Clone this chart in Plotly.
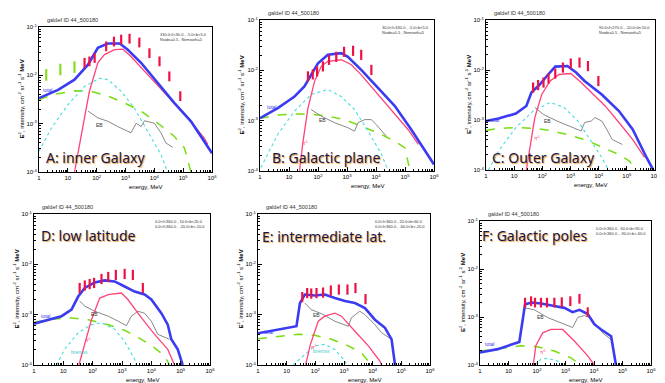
import plotly.graph_objects as go

# E (MeV) and E^2 intensity (MeV cm^-2 sr^-1 s^-1)
# A: inner Galaxy
a_total_e = [1, 4.6, 17, 50, 110, 245, 631, 1202, 3467, 1.32e4, 4.9e4, 1.86e5, 5.37e5, 1e6]
a_total = [3.39e-3, 5.01e-3, 8.13e-3, 1.66e-2, 3.72e-2, 4.57e-2, 4.57e-2, 3.39e-2, 1.82e-2, 6.92e-3, 2.69e-3, 1.12e-3, 4.27e-4, 2.45e-4]
a_pi0_e = [17, 29, 56, 110, 186, 417, 813, 1549, 5888, 2.88e4, 1.45e5, 5.37e5, 7.1e5]
a_pi0 = [1e-4, 5.89e-4, 4.68e-3, 1.82e-2, 2.69e-2, 3.39e-2, 3.47e-2, 2.45e-2, 1.02e-2, 3.72e-3, 1.32e-3, 5.01e-4, 3.72e-4]
a_brems_e = [1, 2.7, 10, 38, 126, 245, 708, 2042, 5888, 1.7e4, 2.88e4]
a_brems = [2.69e-4, 8.13e-4, 2.45e-3, 5.89e-3, 8.71e-3, 8.13e-3, 4.68e-3, 2.09e-3, 6.92e-4, 2.29e-4, 1e-4]
a_ic_e = [1, 3.5, 17, 65, 245, 912, 3467, 1.32e4, 4.9e4, 1.1e5, 1.86e5]
a_ic = [3.16e-3, 4.07e-3, 4.79e-3, 4.68e-3, 3.72e-3, 2.69e-3, 1.82e-3, 1.02e-3, 5.5e-4, 3.16e-4, 1e-4]
a_eb_e = [50, 110, 245, 537, 1549, 2344, 3467, 4571, 1e4, 1.7e4, 2.51e4, 4.37e4]
a_eb = [1.82e-3, 1.32e-3, 1.12e-3, 8.71e-4, 6.46e-4, 1.02e-3, 8.71e-4, 1.15e-3, 1.02e-3, 6.46e-4, 3.98e-4, 3.24e-4]
a_egret_e = [38, 56, 85, 214, 398, 708, 1380, 3020, 6760, 1.51e4, 3.31e4, 7.94e4]
a_egret = [1.82e-2, 1.95e-2, 2.29e-2, 3.98e-2, 5.01e-2, 5.5e-2, 5.75e-2, 4.79e-2, 2.88e-2, 1.95e-2, 9.55e-3, 3.72e-3]
a_comptel_e = [1.78, 5.5, 17]
a_comptel = [1.02e-2, 1.32e-2, 1.48e-2]

# B: Galactic plane
b_total_e = [1, 4.1, 15.5, 34, 58, 100, 219, 631, 1072, 3090, 1.17e4, 4.47e4, 1.66e5, 4.9e5, 1e6]
b_total = [1.12e-3, 1.78e-3, 3.02e-3, 4.79e-3, 8.13e-3, 1.38e-2, 2.04e-2, 2.19e-2, 1.86e-2, 1.02e-2, 4.47e-3, 1.95e-3, 6.61e-4, 2.51e-4, 1.35e-4]
b_pi0_e = [23, 30, 45, 76, 129, 219, 631, 1413, 3090, 1.17e4, 4.47e4, 1.29e5, 2.88e5]
b_pi0 = [1e-4, 3.63e-4, 1.78e-3, 6.03e-3, 1.2e-2, 1.51e-2, 1.62e-2, 1.29e-2, 8.13e-3, 3.31e-3, 1.32e-3, 6.61e-4, 3.39e-4]
b_brems_e = [1.07, 4.1, 15.5, 58, 219, 631, 1820, 5370, 1.55e4, 2.63e4]
b_brems = [1.17e-4, 5.37e-4, 1.55e-3, 3.31e-3, 4.17e-3, 3.02e-3, 1.66e-3, 6.17e-4, 2.14e-4, 1e-4]
b_ic_e = [1, 4.1, 15.5, 58, 219, 832, 3090, 1.17e4, 4.47e4, 1e5, 1.48e5]
b_ic = [1.12e-3, 1.29e-3, 1.35e-3, 1.35e-3, 1.23e-3, 1.05e-3, 7.76e-4, 5.75e-4, 3.89e-4, 2.88e-4, 1e-4]
b_eb_e = [58, 129, 372, 1072, 1820, 2399, 4074, 6918, 1.02e4, 1.55e4, 2.29e4]
b_eb = [1.66e-3, 1.23e-3, 9.12e-4, 7.24e-4, 6.17e-4, 9.12e-4, 1.05e-3, 1.05e-3, 8.32e-4, 6.17e-4, 4.9e-4]
b_egret_e = [45, 66, 93, 148, 240, 427, 794, 1620, 3090, 6920]
b_egret = [7.59e-3, 8.32e-3, 9.55e-3, 1.2e-2, 1.62e-2, 1.86e-2, 2.34e-2, 2.45e-2, 2.04e-2, 1.02e-2]

# C: outer Galaxy
c_total_e = [1, 2.8, 11.5, 27, 41, 81, 145, 288, 776, 1585, 3162, 1.29e4, 5.25e4, 1.62e5, 5e5, 8.7e5]
c_total = [9.55e-4, 1.07e-3, 1.35e-3, 1.91e-3, 3.55e-3, 5.13e-3, 7.59e-3, 1.17e-2, 1.2e-2, 8.91e-3, 6.03e-3, 3.24e-3, 1.51e-3, 6.46e-4, 1.78e-4, 1e-4]
c_pi0_e = [27, 35.5, 54, 95, 190, 389, 1023, 2399, 5495, 1.7e4, 5.25e4, 1.62e5, 4.27e5]
c_pi0 = [1e-4, 2.82e-4, 1.12e-3, 3.24e-3, 6.03e-3, 8.13e-3, 8.51e-3, 5.62e-3, 3.55e-3, 1.91e-3, 8.91e-4, 4.07e-4, 1.78e-4]
c_brems_e = [1.23, 2.8, 11.5, 47, 190, 589, 1820, 5495, 1.29e4, 2.24e4]
c_brems = [1e-4, 2.4e-4, 7.08e-4, 1.51e-3, 2.24e-3, 1.78e-3, 9.55e-4, 3.8e-4, 1.78e-4, 1e-4]
c_ic_e = [1, 2.8, 11.5, 62, 190, 776, 3162, 1.29e4, 5.25e4, 1.23e5, 2e5]
c_ic = [6.17e-4, 6.76e-4, 7.08e-4, 6.76e-4, 6.17e-4, 5.13e-4, 4.07e-4, 2.88e-4, 2.04e-4, 1.51e-4, 1e-4]
c_eb_e = [54, 110, 331, 1023, 2399, 3162, 5495, 7413, 1.29e4, 1.95e4, 3.02e4, 6.92e4]
c_eb = [1.78e-3, 1.29e-3, 9.55e-4, 7.24e-4, 6.03e-4, 8.91e-4, 9.55e-4, 1.12e-3, 9.55e-4, 6.46e-4, 4.07e-4, 3.24e-4]
c_egret_e = [47, 71, 110, 166, 288, 537, 1023, 2089, 4169, 9772]
c_egret = [4.47e-3, 5.01e-3, 5.62e-3, 6.76e-3, 8.51e-3, 1.12e-2, 1.35e-2, 1.41e-2, 1.2e-2, 6.03e-3]

# D: low latitude
d_total_e = [1, 3.1, 8.7, 19, 32, 54, 117, 257, 562, 1230, 2692, 5888, 1e4, 2.19e4, 3.63e4, 4.79e4, 7.94e4, 1.17e5]
d_total = [6.61e-4, 7.94e-4, 9.33e-4, 1.26e-3, 2.29e-3, 3.39e-3, 4.37e-3, 4.79e-3, 4.57e-3, 3.63e-3, 2.88e-3, 2.51e-3, 2e-3, 1.07e-3, 6.31e-4, 3.24e-4, 2.04e-4, 1e-4]
d_pi0_e = [34, 54, 91, 174, 339, 955, 1585, 4571, 1.29e4, 3.63e4, 6.17e4]
d_pi0 = [1e-4, 2.75e-4, 7.94e-4, 2.14e-3, 2.51e-3, 2.69e-3, 2e-3, 8.71e-4, 4.07e-4, 2.04e-4, 1e-4]
d_brems_e = [5.9, 11, 32, 91, 200, 562, 1230, 2692, 3090]
d_brems = [1e-4, 2.04e-4, 4.37e-4, 6.31e-4, 6.92e-4, 5.13e-4, 2.95e-4, 1.29e-4, 1e-4]
d_ic_e = [1, 3.1, 15, 71, 339, 1230, 4571, 1.29e4, 2.82e4, 4.17e4]
d_ic = [7.08e-4, 7.94e-4, 8.71e-4, 7.94e-4, 6.31e-4, 4.9e-4, 3.24e-4, 2.19e-4, 1.51e-4, 1e-4]
d_eb_e = [36, 54, 117, 339, 741, 1413, 2089, 3467, 5888, 1e4, 1.66e4, 4.17e4]
d_eb = [1.86e-3, 1.48e-3, 1.17e-3, 9.33e-4, 7.41e-4, 6.03e-4, 9.33e-4, 1.17e-3, 1.07e-3, 7.41e-4, 4.07e-4, 3.24e-4]
d_egret_e = [36, 54, 79, 112, 200, 339, 617, 1230, 2344, 5129]
d_egret = [3.39e-3, 3.8e-3, 4.07e-3, 4.27e-3, 5.13e-3, 5.62e-3, 6.17e-3, 6.46e-3, 6.17e-3, 3.39e-3]

# E: intermediate latitudes
e_total_e = [1, 5.0, 22, 29, 43, 95, 214, 479, 1072, 2399, 5370, 1.2e4, 2.69e4, 4.57e4, 6.03e4]
e_total = [4.27e-4, 5.13e-4, 5.89e-4, 1.7e-3, 2.51e-3, 2.4e-3, 2.51e-3, 2.14e-3, 1.86e-3, 1.7e-3, 1.35e-3, 7.94e-4, 5.5e-4, 3.24e-4, 1e-4]
e_pi0_e = [46, 65, 126, 214, 479, 813, 2399, 7079, 1.78e4, 2.04e4]
e_pi0 = [1e-4, 2.4e-4, 7.41e-4, 9.33e-4, 1.07e-3, 9.33e-4, 4.68e-4, 2.4e-4, 1.2e-4, 1e-4]
e_brems_e = [16.6, 43, 95, 214, 479, 1072, 1230]
e_brems = [1e-4, 1.62e-4, 2.4e-4, 2.57e-4, 2.04e-4, 1.2e-4, 1e-4]
e_ic_e = [1, 5.0, 25, 95, 363, 1413, 4074, 9120]
e_ic = [3.31e-4, 3.72e-4, 4.07e-4, 3.89e-4, 3.24e-4, 2.4e-4, 1.74e-4, 1e-4]
e_eb_e = [43, 72, 162, 479, 1413, 1820, 3548, 5370, 1.2e4, 2.04e4, 4.57e4]
e_eb = [1.7e-3, 1.26e-3, 1.05e-3, 7.41e-4, 5.89e-4, 8.71e-4, 1.17e-3, 1e-3, 6.31e-4, 4.37e-4, 3.24e-4]
e_egret_e = [35, 52, 72, 110, 186, 347, 661, 1318, 2512, 5623]
e_egret = [2.24e-3, 2.69e-3, 2.63e-3, 2.69e-3, 2.75e-3, 3.02e-3, 3.16e-3, 3.16e-3, 3.39e-3, 2.04e-3]

# F: Galactic poles
f_total_e = [1, 4.2, 24, 38, 62, 138, 407, 912, 1778, 3090, 6026, 1.02e4, 1.78e4, 3.98e4, 5.89e4]
f_total = [1.82e-4, 2.14e-4, 3.02e-4, 1.82e-3, 2e-3, 1.91e-3, 1.7e-3, 1.55e-3, 1.26e-3, 1.41e-3, 1.15e-3, 7.08e-4, 5.5e-4, 3.98e-4, 1e-4]
f_pi0_e = [74, 91, 158, 309, 794, 2042, 6026, 1.02e4]
f_pi0 = [1e-4, 2.51e-4, 4.68e-4, 5.5e-4, 5.5e-4, 3.16e-4, 1.55e-4, 1e-4]
f_brems_e = [81, 138, 234, 537, 794]
f_brems = [1e-4, 1.32e-4, 1.38e-4, 1.2e-4, 1e-4]
f_ic_e = [1, 4.2, 27.5, 105, 407, 1549, 3467]
f_ic = [1.95e-4, 2.19e-4, 2.51e-4, 2.4e-4, 1.95e-4, 1.41e-4, 1e-4]
f_eb_e = [38, 81, 234, 692, 1778, 2692, 4571, 7762, 1.35e4, 2.29e4, 3.98e4]
f_eb = [1.55e-3, 1.41e-3, 9.77e-4, 7.41e-4, 6.03e-4, 9.77e-4, 1.07e-3, 9.77e-4, 6.03e-4, 4.37e-4, 3.39e-4]
f_egret_e = [38, 62, 85, 138, 224, 407, 741, 1479, 3090, 6026]
f_egret = [2e-3, 2.14e-3, 2e-3, 2e-3, 2e-3, 2e-3, 2.04e-3, 2.14e-3, 2.4e-3, 1.26e-3]

titles = ["A: inner Galaxy", "B: Galactic plane", "C: Outer Galaxy",
          "D: low latitude", "E: intermediate lat.", "F: Galactic poles"]
regions = [
    ["330.0<l<30.0 , -5.0<b<5.0", "Nside=0.5 , Nsmooth=5"],
    ["30.0<l<330.0 , -5.0<b<5.0", "Nside=0.5 , Nsmooth=5"],
    ["90.0<l<270.0 , -10.0<b<10.0", "Nside=0.5 , Nsmooth=5"],
    ["0.0<l<360.0 , 10.0<b<20.0", "0.0<l<360.0 , -20.0<b<-10.0"],
    ["0.0<l<360.0 , 20.0<b<60.0", "0.0<l<360.0 , -60.0<b<-20.0"],
    ["0.0<l<360.0 , 60.0<b<90.0", "0.0<l<360.0 , -90.0<b<-60.0"],
]

x_ticks = [1, 10, 100, 1e3, 1e4, 1e5, 1e6]
x_ticktext = ["1", "10", "10<sup>2</sup>", "10<sup>3</sup>", "10<sup>4</sup>", "10<sup>5</sup>", "10<sup>6</sup>"]
y_ticks = [1e-4, 1e-3, 1e-2, 1e-1]
y_ticktext = ["10<sup>-4</sup>", "10<sup>-3</sup>", "10<sup>-2</sup>", "10<sup>-1</sup>"]

panels = [
    dict(total=(a_total_e, a_total), pi0=(a_pi0_e, a_pi0), brems=(a_brems_e, a_brems),
         ic=(a_ic_e, a_ic), eb=(a_eb_e, a_eb), egret=(a_egret_e, a_egret)),
    dict(total=(b_total_e, b_total), pi0=(b_pi0_e, b_pi0), brems=(b_brems_e, b_brems),
         ic=(b_ic_e, b_ic), eb=(b_eb_e, b_eb), egret=(b_egret_e, b_egret)),
    dict(total=(c_total_e, c_total), pi0=(c_pi0_e, c_pi0), brems=(c_brems_e, c_brems),
         ic=(c_ic_e, c_ic), eb=(c_eb_e, c_eb), egret=(c_egret_e, c_egret)),
    dict(total=(d_total_e, d_total), pi0=(d_pi0_e, d_pi0), brems=(d_brems_e, d_brems),
         ic=(d_ic_e, d_ic), eb=(d_eb_e, d_eb), egret=(d_egret_e, d_egret)),
    dict(total=(e_total_e, e_total), pi0=(e_pi0_e, e_pi0), brems=(e_brems_e, e_brems),
         ic=(e_ic_e, e_ic), eb=(e_eb_e, e_eb), egret=(e_egret_e, e_egret)),
    dict(total=(f_total_e, f_total), pi0=(f_pi0_e, f_pi0), brems=(f_brems_e, f_brems),
         ic=(f_ic_e, f_ic), eb=(f_eb_e, f_eb), egret=(f_egret_e, f_egret)),
]

# frame boxes in pixels: left, right, top, bottom
W, H = 665, 383
boxes = [(31, 204, 19, 164), (252, 426, 12, 163), (478, 647, 12, 162),
         (26, 202, 206, 357), (250, 422, 206, 357), (472, 643, 213, 357)]

# where the big labels sit (pixels) and the small curve labels (log10 E, log10 I)
title_pos = [(36, 150), (262, 150), (482, 149), (31, 227), (252, 228), (472, 227)]
total_lbl = [(0.3, -2.3), (0.4, -2.73), (0.3, -2.99), (0.4, -3.02), (0.35, -3.35), (0.35, -3.57)]
eb_lbl = [(2.1, -3.02), (2.17, -2.98), (2.2, -3.01), (2.07, -2.98), (2.05, -3.0), (2.14, -3.01)]

styles = {
    "ic": dict(color="#77dd11", width=1.5, dash="dash"),
    "brems": dict(color="#44dddd", width=1.1, dash="dot"),
    "eb": dict(color="#888888", width=1),
    "pi0": dict(color="#ff4477", width=1.3),
    "total": dict(color="#3b3bf2", width=2.6),
}

fig = go.Figure()
ann = []
small = dict(family="Liberation Sans", size=6, color="black")

for i, p in enumerate(panels):
    n = "" if i == 0 else str(i + 1)
    xa, ya = "x" + n, "y" + n
    for key in ["ic", "brems", "eb", "pi0", "total"]:
        e, v = p[key]
        fig.add_trace(go.Scatter(x=e, y=v, mode="lines", line=styles[key],
                                 xaxis=xa, yaxis=ya, showlegend=False))
    e, v = p["egret"]
    fig.add_trace(go.Scatter(x=e, y=v, mode="markers", marker=dict(size=1, color="#ee1144"),
                             error_y=dict(type="percent", value=26, valueminus=21, width=0,
                                          thickness=2.2, color="#ee1144"),
                             xaxis=xa, yaxis=ya, showlegend=False))
    if i == 0:
        fig.add_trace(go.Scatter(x=a_comptel_e, y=a_comptel, mode="markers",
                                 marker=dict(size=1, color="#88dd22"),
                                 error_y=dict(type="percent", value=32, valueminus=24, width=0,
                                              thickness=2.2, color="#88dd22"),
                                 xaxis=xa, yaxis=ya, showlegend=False))

    l, r, t, b = boxes[i]
    fig.update_layout({
        "xaxis" + n: dict(domain=[l / W, r / W], anchor=ya, type="log", range=[0, 6],
                          tickmode="array", tickvals=x_ticks, ticktext=x_ticktext,
                          ticks="inside", ticklen=4, tickcolor="black", tickfont=small,
                          minor=dict(ticks="inside", ticklen=2, dtick="D1", tickcolor="black"),
                          showline=True, mirror=True, linecolor="black", linewidth=1,
                          showgrid=False, zeroline=False, fixedrange=True, automargin=False),
        "yaxis" + n: dict(domain=[1 - b / H, 1 - t / H], anchor=xa, type="log", range=[-4, -1],
                          tickmode="array", tickvals=y_ticks, ticktext=y_ticktext,
                          ticks="inside", ticklen=4, tickcolor="black", tickfont=small,
                          minor=dict(ticks="inside", ticklen=2, dtick="D1", tickcolor="black"),
                          showline=True, mirror=True, linecolor="black", linewidth=1,
                          showgrid=False, zeroline=False, fixedrange=True, automargin=False),
    })

    # header texts
    ann.append(dict(text="galdef ID 44_500180", xref="paper", yref="paper",
                    x=(l + 6) / W, y=1 - (t - 2) / H, xanchor="left", yanchor="bottom",
                    showarrow=False, font=dict(family="Liberation Sans", size=5.5, color="#333")))
    ann.append(dict(text=regions[i][0] + "<br>" + regions[i][1], xref="paper", yref="paper",
                    x=(r - 3) / W, y=1 - (t + 3) / H, xanchor="right", yanchor="top", align="left",
                    showarrow=False, font=dict(family="Liberation Sans", size=4, color="#333")))
    # axis titles
    ann.append(dict(text="energy, MeV", xref="paper", yref="paper",
                    x=(l + 0.62 * (r - l)) / W, y=1 - (b + 10) / H, xanchor="center", yanchor="top",
                    showarrow=False, font=dict(family="Liberation Sans", size=6, color="black")))
    ann.append(dict(text="<b>E</b><sup>2</sup>, intensity, cm<sup>-2</sup> sr<sup>-1</sup> s<sup>-1</sup> <b>MeV</b>",
                    xref="paper", yref="paper", textangle=-90,
                    x=(l - 18) / W, y=1 - (t + b) / 2 / H, xanchor="center", yanchor="middle",
                    showarrow=False, font=dict(family="Liberation Sans", size=6, color="black")))
    # big panel label
    tx, ty = title_pos[i]
    ann.append(dict(text=titles[i], xref="paper", yref="paper", x=tx / W, y=1 - ty / H,
                    xanchor="left", yanchor="middle", showarrow=False,
                    font=dict(family="Noto Sans", size=14, color="#15154d",
                              shadow="1px 1px 1px #f4a040")))
    # curve labels
    ann.append(dict(text="total", xref=xa, yref=ya, x=total_lbl[i][0], y=total_lbl[i][1],
                    showarrow=False, font=dict(family="Liberation Sans", size=5, color="#3b3bf2")))
    ann.append(dict(text="EB", xref=xa, yref=ya, x=eb_lbl[i][0], y=eb_lbl[i][1],
                    showarrow=False, font=dict(family="Liberation Sans", size=5, color="#333")))

ann.append(dict(text="bremss", xref="x4", yref="y4", x=1.55, y=-3.74, showarrow=False,
                font=dict(family="Liberation Sans", size=5, color="#44cccc")))
ann.append(dict(text="bremss", xref="x5", yref="y5", x=2.2, y=-3.72, showarrow=False,
                font=dict(family="Liberation Sans", size=5, color="#44cccc")))
for xa, ya, px, py in [("x2", "y2", 1.55, -3.44), ("x3", "y3", 1.8, -3.35), ("x4", "y4", 1.82, -3.51),
                       ("x5", "y5", 1.95, -3.64), ("x6", "y6", 2.2, -3.73)]:
    ann.append(dict(text="π<sup>0</sup>", xref=xa, yref=ya, x=px, y=py, showarrow=False,
                    font=dict(family="Liberation Sans", size=5, color="#ff4477")))

fig.update_layout(width=W, height=H, margin=dict(l=0, r=0, t=0, b=0),
                  paper_bgcolor="white", plot_bgcolor="white", annotations=ann)
fig.write_html("out.html")
